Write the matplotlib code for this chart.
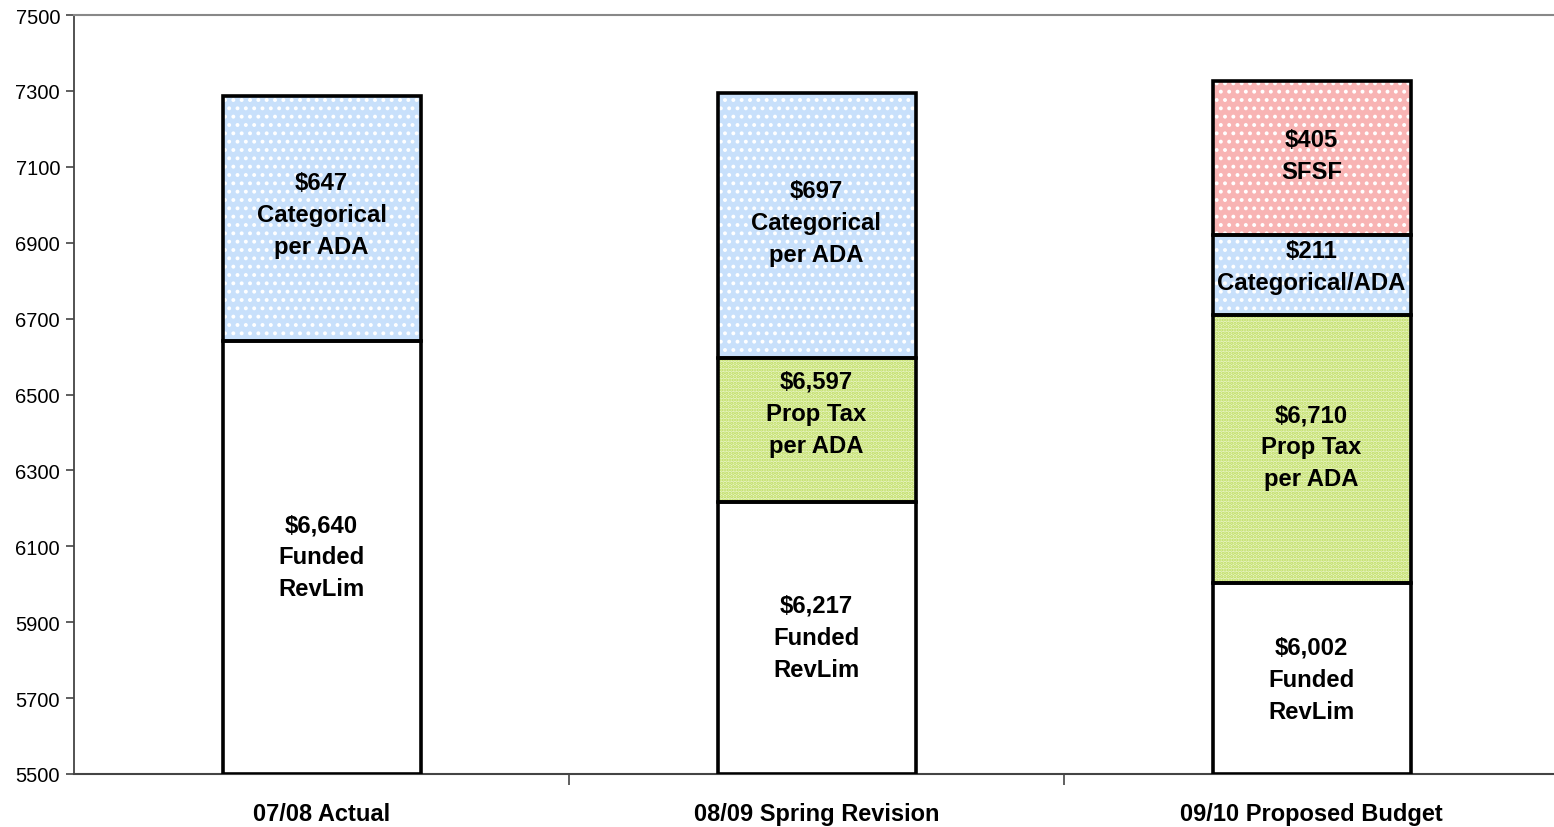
import matplotlib
matplotlib.use("Agg")
import matplotlib.pyplot as plt
import numpy as np

plt.rcParams['font.family'] = ['Liberation Sans', 'DejaVu Sans']
plt.rcParams['hatch.linewidth'] = 1.6

categories = ["07/08 Actual", "08/09 Spring Revision", "09/10 Proposed Budget"]
# segment heights (per ADA)
funded_revlim = [6640, 6217, 6002]
prop_tax = [0, 380, 708]
categorical = [647, 697, 211]
sfsf = [0, 0, 405]

funded_labels = ["$6,640\nFunded\nRevLim", "$6,217\nFunded\nRevLim", "$6,002\nFunded\nRevLim"]
prop_labels = ["", "$6,597\nProp Tax\nper ADA", "$6,710\nProp Tax\nper ADA"]
cat_labels = ["$647\nCategorical\nper ADA", "$697\nCategorical\nper ADA", "$211\nCategorical/ADA"]
sfsf_labels = ["", "", "$405\nSFSF"]

yticks = list(range(5500, 7501, 200))
ymin, ymax = 5500, 7500

W, H = 1554, 828
fig = plt.figure(figsize=(W / 100, H / 100), dpi=100)
left, right, top, bottom = 74, 1559, 16, 775
ax = fig.add_axes([left / W, 1 - bottom / H, (right - left) / W, (bottom - top) / H])

x = np.arange(len(categories))
bw = 0.40
edge_kw = dict(edgecolor='black', linewidth=2.6, zorder=3)

# base (white) segment starts from axis bottom
base_bottom = [ymin] * 3
base_h = [v - ymin for v in funded_revlim]
ax.bar(x, base_h, bw, bottom=base_bottom, facecolor='white', **edge_kw)

b = np.array(funded_revlim, dtype=float)
segments = [
    (prop_tax, '#e8f4c4', '#bcdc5a', '.....'),
    (categorical, '#c8e0fb', '#ffffff', '..'),
    (sfsf, '#f8b4b4', '#ffffff', '..'),
]
for vals, fc, hc, hatch in segments:
    vals = np.array(vals, dtype=float)
    for i in range(3):
        if vals[i] > 0:
            ax.bar(x[i], vals[i], bw, bottom=b[i], facecolor=fc, hatch=hatch,
                   edgecolor=hc, linewidth=0, zorder=2)
            ax.bar(x[i], vals[i], bw, bottom=b[i], facecolor='none', **edge_kw)
    b = b + vals

txt_kw = dict(ha='center', va='center', fontsize=17.2, fontweight='bold',
              linespacing=1.5, zorder=5)
label_y_funded = [6072, 5861, 5750]
label_y_prop = [None, 6451, 6362]
label_y_cat = [6973, 6952, 6836]
label_y_sfsf = [None, None, 7131]
for i in range(3):
    ax.text(x[i], label_y_funded[i], funded_labels[i], **txt_kw)
    if prop_labels[i]:
        ax.text(x[i], label_y_prop[i], prop_labels[i], **txt_kw)
    ax.text(x[i], label_y_cat[i], cat_labels[i], **txt_kw)
    if sfsf_labels[i]:
        ax.text(x[i], label_y_sfsf[i], sfsf_labels[i], **txt_kw)

ax.set_ylim(ymin, ymax)
ax.set_xlim(-0.5, 2.5)
ax.set_yticks(yticks)
ax.set_yticklabels([str(t) for t in yticks], fontsize=14.5)
ax.set_xticks(x)
ax.set_xticklabels(categories, fontsize=17, fontweight='bold')
ax.set_xticks([0.5, 1.5], minor=True)
ax.tick_params(axis='x', which='major', length=0, pad=20)
ax.tick_params(axis='x', which='minor', length=8, width=1.2, color='#444444')
ax.tick_params(axis='y', length=6, width=1.2, color='#444444', pad=4)

ax.spines['right'].set_visible(False)
ax.spines['left'].set_color('#444444')
ax.spines['left'].set_linewidth(1.3)
ax.spines['bottom'].set_color('#444444')
ax.spines['bottom'].set_linewidth(1.5)
ax.spines['top'].set_color('#888888')
ax.spines['top'].set_linewidth(1.5)
ax.set_facecolor('white')

fig.savefig('out.png', dpi=100, facecolor='white')
